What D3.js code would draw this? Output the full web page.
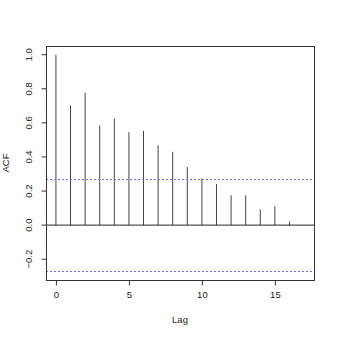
<!DOCTYPE html>
<html>
<head>
<meta charset="utf-8">
<script src="https://cdn.jsdelivr.net/npm/d3@7"></script>
<style>
  body { margin: 0; background: #fff; }
  text { font-family: "Liberation Sans", Arial, sans-serif; fill: #222; }
</style>
</head>
<body>
<div class="svg_container"></div>
<script>
// acf values
var lags = [0, 1, 2, 3, 4, 5, 6, 7, 8, 9, 10, 11, 12, 13, 14, 15, 16, 17];
var acf = [1.0, 0.702, 0.776, 0.584, 0.625, 0.545, 0.553, 0.469, 0.431, 0.341,
           0.273, 0.241, 0.175, 0.175, 0.092, 0.110, 0.022, -0.003];
var clim = 0.271;
var xTicks = [0, 5, 10, 15];
var yTicks = [-0.2, 0, 0.2, 0.4, 0.6, 0.8, 1.0];

// plot box
var margin = { top: 46, right: 24, bottom: 58, left: 46 },
  width = 338 - margin.left - margin.right,
  height = 338 - margin.top - margin.bottom;

var x = d3.scaleLinear().domain([-0.68, 17.68]).range([0, width]);
var y = d3.scaleLinear().domain([-0.322, 1.051]).range([height, 0]);

var svg = d3.select(".svg_container").append("svg")
  .attr("width", 338)
  .attr("height", 338)
  .append("g")
  .attr("transform", "translate(" + margin.left + "," + margin.top + ")");

// acf spikes
svg.selectAll(".bar")
  .data(lags)
  .enter().append("line")
  .attr("class", "bar")
  .attr("x1", function(d) { return x(d); })
  .attr("x2", function(d) { return x(d); })
  .attr("y1", y(0))
  .attr("y2", function(d, i) { return y(acf[i]); })
  .attr("stroke", "#444")
  .attr("stroke-width", 1);

// zero line
svg.append("line")
  .attr("x1", 0).attr("x2", width)
  .attr("y1", y(0)).attr("y2", y(0))
  .attr("stroke", "#222");

// confidence bounds
[clim, -clim].forEach(function(c) {
  svg.append("line")
    .attr("x1", 0).attr("x2", width)
    .attr("y1", Math.round(y(c)) + 0.5).attr("y2", Math.round(y(c)) + 0.5)
    .style("stroke", "#6e6ef5")
    .style("stroke-dasharray", "2,2");
});

// box
svg.append("rect")
  .attr("x", 0.5).attr("y", 0.5)
  .attr("width", width).attr("height", height)
  .attr("fill", "none")
  .attr("stroke", "#333");

// x axis
var gx = svg.append("g")
  .attr("transform", "translate(0," + (height + 0.5) + ")")
  .call(d3.axisBottom(x).tickValues(xTicks).tickSize(5).tickPadding(6).tickFormat(d3.format("d")));
gx.select(".domain").attr("d", "M" + x(0) + ",0H" + x(15)).attr("stroke", "#333");
gx.selectAll("line").attr("stroke", "#333");
gx.selectAll("text").style("font-size", "9.5px").attr("fill", "#222");

// y axis
var gy = svg.append("g")
  .attr("transform", "translate(0.5,0)")
  .call(d3.axisLeft(y).tickValues(yTicks).tickSize(5).tickFormat(d3.format(".1f")));
gy.select(".domain").attr("d", "M0," + y(-0.2) + "V" + y(1)).attr("stroke", "#333");
gy.selectAll("line").attr("stroke", "#333");
gy.selectAll("text")
  .style("font-size", "9.5px")
  .attr("fill", "#222")
  .attr("x", null).attr("dy", null)
  .attr("text-anchor", "middle")
  .attr("transform", function(d) { return "translate(-15," + y(d) + ") rotate(-90)"; })
  .attr("y", 0);
gy.selectAll(".tick").attr("transform", "translate(0,0)");
gy.selectAll(".tick line").attr("transform", function(d) { return "translate(0," + y(d) + ")"; });

// axis titles
svg.append("text")
  .attr("x", width / 2)
  .attr("y", height + 43)
  .attr("text-anchor", "middle")
  .style("font-size", "9.5px")
  .text("Lag");

svg.append("text")
  .attr("transform", "translate(" + (-37) + "," + (height / 2) + ") rotate(-90)")
  .attr("text-anchor", "middle")
  .style("font-size", "9.5px")
  .text("ACF");
</script>
</body>
</html>
